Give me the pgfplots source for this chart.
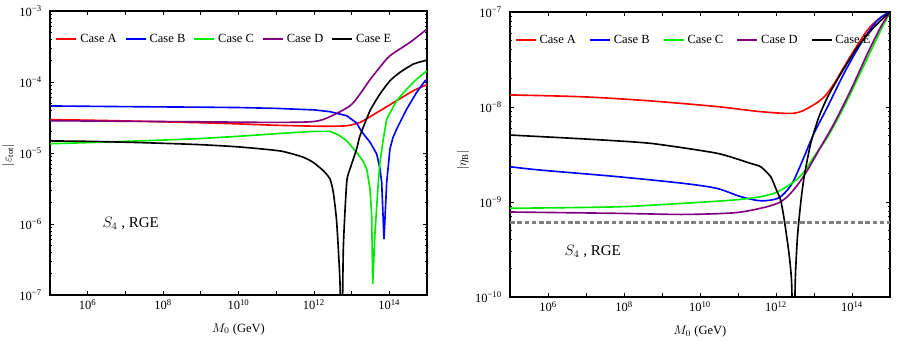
\documentclass[border=0pt]{standalone}
\usepackage{fontspec}
\setmainfont{Liberation Serif}
\usepackage{pgfplots}
\pgfplotsset{compat=1.18}

\definecolor{cA}{RGB}{255,0,0}
\definecolor{cB}{RGB}{0,0,255}
\definecolor{cC}{RGB}{0,235,0}
\definecolor{cD}{RGB}{128,0,128}
\definecolor{cE}{RGB}{0,0,0}
\definecolor{obs}{RGB}{128,128,128}

% options shared by both panels (xmode/ymode go in each axis)
\pgfplotsset{
  scale only axis,
  xmin=1e5, xmax=1e15,
  xtick={1e5,1e6,1e7,1e8,1e9,1e10,1e11,1e12,1e13,1e14,1e15},
  xticklabels={,10\textsuperscript{6},,10\textsuperscript{8},,10\textsuperscript{10},,10\textsuperscript{12},,10\textsuperscript{14},},
  xminorticks=false,
  tick align=inside,
  axis line style={line width=1pt},
  major tick length=3pt, minor tick length=1.8pt,
  every tick/.style={black, line width=0.6pt},
  yticklabel style={xshift=-3pt},
  xlabel={$M_0$ (GeV)},
  every axis x label/.style={at={(axis description cs:0.5,-0.12)}, anchor=center},
  legend columns=5,
  legend image code/.code={\draw[#1] (0pt,0pt) -- (16pt,0pt);},
  legend style={draw=none, fill=none, inner sep=0pt, anchor=west,
    nodes={inner xsep=2.5pt}},
  curve/.style={line width=1.3pt},
}

\begin{document}
\begin{tikzpicture}
\useasboundingbox (0,0) rectangle (720pt,272.8pt);

% left panel: |epsilon_tot|
\begin{axis}[
  xmode=log, ymode=log,
  at={(40pt,36.8pt)}, anchor=south west,
  width=301.6pt, height=227.2pt,
  ymin=1e-7, ymax=1e-3,
  ytick={1e-7,1e-6,1e-5,1e-4,1e-3},
  yticklabels={10\textsuperscript{−7},10\textsuperscript{−6},10\textsuperscript{−5},10\textsuperscript{−4},10\textsuperscript{−3}},
  legend style={at={(axis description cs:0.014,0.901)},
    /tikz/every even column/.append style={column sep=4pt}},
]
\addplot[curve, cA, smooth] coordinates {
 (1e5,2.95e-5) (1e6,2.9e-5) (1e7,2.83e-5) (1e8,2.75e-5) (1e9,2.67e-5)
 (1e10,2.57e-5) (1e11,2.46e-5) (1e12,2.39e-5) (2.67e12,2.38e-5) (7.41e12,2.42e-5)
 (1.36e13,2.6e-5) (2.04e13,2.85e-5) (5.66e13,3.94e-5) (1.57e14,5.46e-5)
 (4.34e14,7.53e-5) (1e15,9.2e-5)};
\addlegendentry{Case A}
\addplot[curve, cB] coordinates {
 (1e5,4.6e-5) (1e7,4.5e-5) (1e9,4.42e-5) (1e10,4.37e-5) (1e11,4.25e-5)
 (1e12,4.05e-5) (2.67e12,3.82e-5) (7.41e12,3.35e-5) (1.36e13,2.65e-5)
 (1.67e13,2.18e-5) (2.04e13,1.87e-5) (3.08e13,1.42e-5) (4.63e13,9.7e-6)
 (5.66e13,6.0e-6) (6.28e13,3.86e-6) (7.23e13,6.15e-7) (8.53e13,3.86e-6)
 (1.04e14,1.14e-5) (1.25e14,1.65e-5) (1.57e14,2.18e-5) (2.90e14,4.17e-5)
 (5.33e14,7.16e-5) (8.85e14,1.04e-4) (1e15,1.08e-4)};
\addlegendentry{Case B}
\addplot[curve, cC] coordinates {
 (1e5,1.35e-5) (1e6,1.4e-5) (1e7,1.46e-5) (1e8,1.52e-5) (1e9,1.6e-5)
 (1e10,1.72e-5) (1e11,1.87e-5) (1e12,2.02e-5) (2.67e12,2.02e-5) (4.44e12,1.8e-5)
 (7.41e12,1.49e-5) (1.36e13,1.02e-5) (2.0e13,7.7e-6) (2.52e13,5.96e-6)
 (3.08e13,3.1e-6) (3.41e13,1.31e-6) (3.63e13,1.43e-7) (4.18e13,7.71e-7)
 (5.11e13,3.86e-6) (5.66e13,7.5e-6) (6.93e13,1.57e-5) (8.53e13,3.01e-5)
 (1.57e14,5.46e-5) (2.90e14,7.96e-5) (5.33e14,1.10e-4) (8.85e14,1.37e-4)
 (1e15,1.42e-4)};
\addlegendentry{Case C}
\addplot[curve, cD, smooth] coordinates {
 (1e5,2.85e-5) (1e7,2.8e-5) (1e9,2.75e-5) (1e11,2.7e-5) (1e12,2.78e-5)
 (2.67e12,3.25e-5) (9.08e12,4.63e-5) (1.67e13,6.78e-5) (3.08e13,1.08e-4)
 (5.66e13,1.62e-4) (1.04e14,2.34e-4) (3.54e14,3.62e-4) (8.85e14,5.28e-4)
 (1e15,5.6e-4)};
\addlegendentry{Case D}
\addplot[curve, cE, smooth, tension=0.35] coordinates {
 (1e5,1.48e-5) (1e6,1.46e-5) (1e7,1.42e-5) (1e8,1.37e-5) (1e9,1.31e-5)
 (1e10,1.22e-5) (1.26e11,1.07e-5) (5e11,8.8e-6) (9.5e11,7.4e-6) (1.8e12,5.6e-6)
 (2.67e12,4.31e-6) (3.27e12,2.79e-6) (4.03e12,1.05e-6) (4.92e12,1.5e-7)
 (5.46e12,1e-8) (6.03e12,4.45e-7) (7.41e12,3.86e-6) (9.08e12,5.96e-6)
 (1.36e13,1.14e-5) (1.67e13,1.75e-5) (3.08e13,3.94e-5) (5.66e13,6.78e-5)
 (1.04e14,1.04e-4) (1.92e14,1.37e-4) (4.34e14,1.79e-4) (8.85e14,2.0e-4)
 (1e15,2.03e-4)};
\addlegendentry{Case E}
\node[anchor=west, font=\large] at (axis cs:1.9e6,1.02e-6) {$S_4$ , RGE};
\end{axis}

% right panel: |eta_B|
\begin{axis}[
  xmode=log, ymode=log,
  at={(408pt,35.2pt)}, anchor=south west,
  width=304pt, height=228pt,
  ymin=1e-10, ymax=1e-7,
  ytick={1e-10,1e-9,1e-8,1e-7},
  yticklabels={10\textsuperscript{−10},10\textsuperscript{−9},10\textsuperscript{−8},10\textsuperscript{−7}},
  legend style={at={(axis description cs:0.012,0.901)},
    /tikz/every even column/.append style={column sep=8pt}},
]
\addplot[curve, cA, smooth] coordinates {
 (1e5,1.34e-8) (8.5e6,1.28e-8) (4.9e8,1.16e-8) (2.8e10,1.01e-8) (4e11,8.93e-9)
 (3e12,8.6e-9) (8.2e12,1.01e-8) (1.86e13,1.28e-8) (3.4e13,1.77e-8) (6.2e13,2.65e-8)
 (1.15e14,3.98e-8) (2.57e14,6.47e-8) (4.73e14,8.24e-8) (1e15,1.0e-7)};
\addlegendentry{Case A}
\addplot[curve, cB, smooth] coordinates {
 (1e5,2.35e-9) (6.2e5,2.17e-9) (6.6e7,1.85e-9) (3.7e9,1.57e-9) (2.8e10,1.39e-9)
 (1.17e11,1.14e-9) (3.98e11,1.03e-9) (1.1e12,1.09e-9) (2.0e12,1.34e-9)
 (2.98e12,1.71e-9) (5.5e12,3.0e-9) (1e13,5.28e-9) (2.29e13,1.01e-8)
 (6.17e13,2.26e-8) (1.72e14,4.67e-8) (4.73e14,8.24e-8) (1e15,1.0e-7)};
\addlegendentry{Case B}
\addplot[curve, cC, smooth] coordinates {
 (1e5,8.59e-10) (6.6e7,8.9e-10) (3.7e9,9.7e-10) (7.8e10,1.05e-9) (3.98e11,1.14e-9)
 (1.1e12,1.28e-9) (2.98e12,1.64e-9) (5.5e12,2.08e-9) (1e13,3.0e-9) (2.29e13,4.86e-9)
 (6.17e13,1.01e-8) (1.72e14,2.36e-8) (4.73e14,5.5e-8) (1e15,1.0e-7)};
\addlegendentry{Case C}
\addplot[curve, cD, smooth] coordinates {
 (1e5,7.85e-10) (6.6e7,7.6e-10) (3.7e9,7.4e-10) (7.8e10,7.7e-10) (3.98e11,8.6e-10)
 (1.1e12,9.7e-10) (2.0e12,1.14e-9) (3.67e12,1.51e-9) (6.76e12,2.17e-9)
 (1.51e13,3.82e-9) (3.39e13,6.73e-9) (9.3e13,1.51e-8) (2.57e14,3.67e-8)
 (5.75e14,7.0e-8) (1e15,1.0e-7)};
\addlegendentry{Case D}
\addplot[curve, cE, smooth, tension=0.35] coordinates {
 (1e5,5.07e-9) (1e7,4.6e-9) (4.9e8,4.15e-9) (2.8e10,3.26e-9) (2.14e11,2.55e-9)
 (3.98e11,2.35e-9) (7.24e11,1.85e-9) (9.8e11,1.4e-9) (1.32e12,1.05e-9)
 (1.62e12,6.8e-10) (2.19e12,2.9e-10) (2.6e12,1.3e-10) (2.88e12,1e-11)
 (3.2e12,1.4e-10) (3.67e12,4.3e-10) (4.47e12,9.8e-10) (5.5e12,1.85e-9)
 (8.2e12,4.15e-9) (1.35e13,7.9e-9) (2.29e13,1.28e-8) (5.13e13,2.26e-8)
 (1.41e14,4.31e-8) (3.89e14,7.0e-8) (1e15,1.0e-7)};
\addlegendentry{Case E}
\addplot[obs, line width=2pt, dash pattern=on 3.6pt off 2.2pt, forget plot] coordinates {
 (1e5,6.1e-10) (1e15,6.1e-10)};
\node[anchor=west, font=\large] at (axis cs:2.1e6,3.0e-10) {$S_4$ , RGE};
\end{axis}

% y labels, placed as in the reference
\node[rotate=90] at (6.6pt,148.8pt) {$|\varepsilon_{\mathrm{tot}}|$};
\node[rotate=90] at (370.4pt,144.8pt) {$|\eta_{\mathrm{B}}|$};
\end{tikzpicture}
\end{document}
